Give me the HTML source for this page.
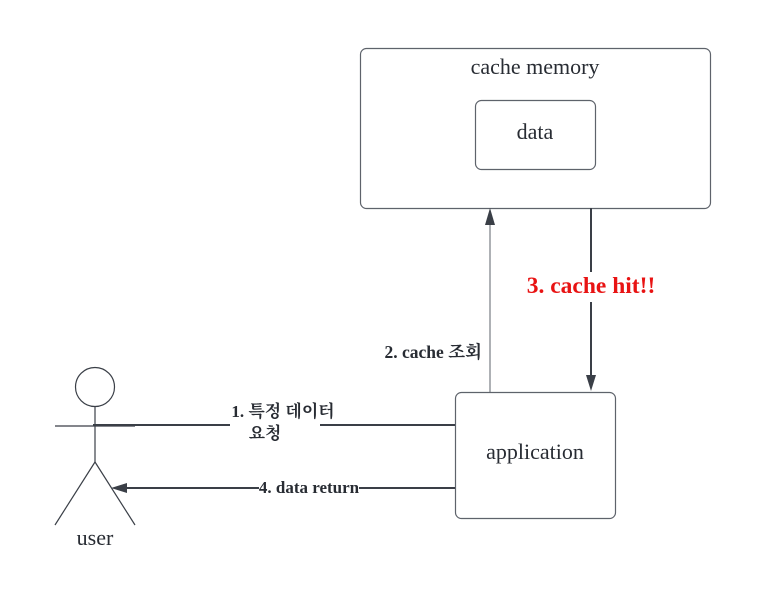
<!DOCTYPE html>
<html><head><meta charset="utf-8"><style>
html,body{margin:0;padding:0;background:#fff;}
svg{display:block}
text{font-family:"Liberation Serif","Noto Serif CJK SC","Noto Sans CJK KR",serif;fill:#282c33}
</style></head><body>
<svg width="766" height="595" viewBox="0 0 766 595" xmlns="http://www.w3.org/2000/svg">
<rect x="360.5" y="48.5" width="350" height="160" rx="6" fill="#fff" stroke="#5e636b" stroke-width="1.2"/>
<text x="535" y="74" font-size="22" text-anchor="middle">cache memory</text>
<rect x="475.5" y="100.5" width="120" height="69" rx="6" fill="#fff" stroke="#5e636b" stroke-width="1.2"/>
<text x="535" y="139" font-size="22" text-anchor="middle">data</text>
<rect x="455.5" y="392.5" width="160" height="126" rx="6" fill="#fff" stroke="#5e636b" stroke-width="1.2"/>
<text x="535" y="459" font-size="22" text-anchor="middle">application</text>
<!-- arrow 2 -->
<line x1="490" y1="392" x2="490" y2="222" stroke="#5e636b" stroke-width="1"/>
<polygon points="490,208 485,225 495,225" fill="#3a3f47"/>
<text x="482" y="358" font-size="17.5" font-weight="bold" text-anchor="end">2. cache 조회</text>
<!-- arrow 3 -->
<line x1="591" y1="208" x2="591" y2="272" stroke="#3a3f47" stroke-width="2"/>
<line x1="591" y1="302" x2="591" y2="378" stroke="#3a3f47" stroke-width="2"/>
<polygon points="591,391 586,375 596,375" fill="#3a3f47"/>
<text x="591" y="293" font-size="23.5" font-weight="bold" text-anchor="middle" style="fill:#e81313">3. cache hit!!</text>
<!-- actor -->
<circle cx="95" cy="387" r="19.5" fill="#fff" stroke="#3a3f47" stroke-width="1.2"/>
<line x1="95" y1="406" x2="95" y2="462" stroke="#3a3f47" stroke-width="1.2"/>
<line x1="55" y1="426" x2="135" y2="426" stroke="#3a3f47" stroke-width="1.2"/>
<line x1="95" y1="462" x2="55" y2="525" stroke="#3a3f47" stroke-width="1.2"/>
<line x1="95" y1="462" x2="135" y2="525" stroke="#3a3f47" stroke-width="1.2"/>
<text x="95" y="545" font-size="22" text-anchor="middle">user</text>
<!-- line 1 -->
<line x1="93" y1="425" x2="230" y2="425" stroke="#3a3f47" stroke-width="2"/>
<line x1="320" y1="425" x2="455" y2="425" stroke="#3a3f47" stroke-width="2"/>
<text x="283" y="417" font-size="17" font-weight="bold" text-anchor="middle">1. 특정 데이터</text>
<text x="265" y="439" font-size="17" font-weight="bold" text-anchor="middle">요청</text>
<!-- line 4 -->
<line x1="455" y1="488" x2="125" y2="488" stroke="#3a3f47" stroke-width="2"/>
<polygon points="111,488 127,483 127,493" fill="#3a3f47"/>
<rect x="259" y="478" width="100" height="16" fill="#fff"/>
<text x="309" y="493" font-size="17" font-weight="bold" text-anchor="middle">4. data return</text>
</svg>
</body></html>
